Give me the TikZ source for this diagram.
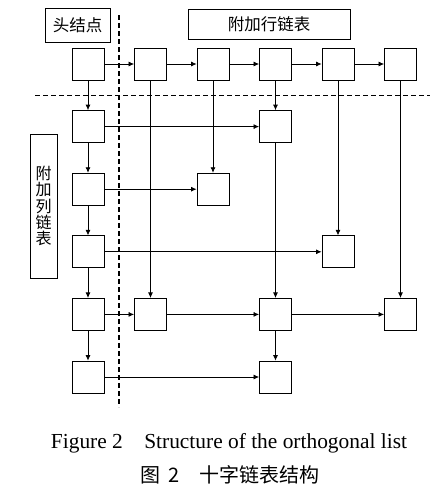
\documentclass[tikz,border=0pt]{standalone}
\usepackage{fontspec}
\setmainfont{Liberation Serif}
\newfontfamily\cjk{Noto Sans CJK SC}
\usetikzlibrary{arrows.meta}
\begin{document}
\begin{tikzpicture}[x=1pt,y=-1pt,
  cell/.style={draw, line width=0.9pt, minimum size=32pt, inner sep=0pt},
  labelbox/.style={draw, line width=0.9pt, inner sep=0pt, font=\cjk\fontsize{16.5}{17}\selectfont},
  link/.style={-{Latex[length=5.5pt,width=5pt]}, line width=0.7pt},
  divider/.style={line width=1.2pt, dash pattern=on 5pt off 3pt}]
\useasboundingbox (0,0) rectangle (447,491);
% label boxes
\node[labelbox, minimum width=65pt, minimum height=34pt] (head) at (77.5,25) {头结点};
\node[labelbox, minimum width=162pt, minimum height=30pt] (rowlab) at (269,24) {附加行链表};
\node[labelbox, minimum width=27pt, minimum height=144pt, align=center,
      font=\cjk\fontsize{16}{16.3}\selectfont] (collab) at (43.5,206) {附\\加\\列\\链\\表};
% dividers
\coordinate (hl) at (35,95.7);
\coordinate (hr) at (430,95.7);
\coordinate (vt) at (119,15);
\coordinate (vb) at (119,407);
\draw[divider] (hl) -- (hr);
\draw[divider] (vt) -- (vb);
% cells
\foreach \c/\x in {0/88,1/150.5,2/213,3/275.5,4/338,5/400.5}
  \node[cell] (n0\c) at (\x,64) {};
\node[cell] (n10) at (88,126.6) {};
\node[cell] (n13) at (275.5,126.6) {};
\node[cell] (n20) at (88,189.2) {};
\node[cell] (n22) at (213,189.2) {};
\node[cell] (n30) at (88,251.8) {};
\node[cell] (n34) at (338,251.8) {};
\node[cell] (n40) at (88,314.4) {};
\node[cell] (n41) at (150.5,314.4) {};
\node[cell] (n43) at (275.5,314.4) {};
\node[cell] (n45) at (400.5,314.4) {};
\node[cell] (n50) at (88,377) {};
\node[cell] (n53) at (275.5,377) {};
% horizontal links
\draw[link] (n00) -- (n01);
\draw[link] (n01) -- (n02);
\draw[link] (n02) -- (n03);
\draw[link] (n03) -- (n04);
\draw[link] (n04) -- (n05);
\draw[link] (n10) -- (n13);
\draw[link] (n20) -- (n22);
\draw[link] (n30) -- (n34);
\draw[link] (n40) -- (n41);
\draw[link] (n41) -- (n43);
\draw[link] (n43) -- (n45);
\draw[link] (n50) -- (n53);
% vertical links
\draw[link] (n00) -- (n10);
\draw[link] (n10) -- (n20);
\draw[link] (n20) -- (n30);
\draw[link] (n30) -- (n40);
\draw[link] (n40) -- (n50);
\draw[link] (n01) -- (n41);
\draw[link] (n02) -- (n22);
\draw[link] (n03) -- (n13);
\draw[link] (n13) -- (n43);
\draw[link] (n43) -- (n53);
\draw[link] (n04) -- (n34);
\draw[link] (n05) -- (n45);
% caption
\node[inner sep=0pt, font=\fontsize{21.4}{22}\selectfont] (cap1) at (229,443) {Figure 2\hspace{1em}Structure of the orthogonal list};
\node[inner sep=0pt, font=\cjk\fontsize{20}{21}\selectfont] (cap2) at (230,475) {图\hspace{0.4em}2\hspace{1em}十字链表结构};
\end{tikzpicture}
\end{document}
